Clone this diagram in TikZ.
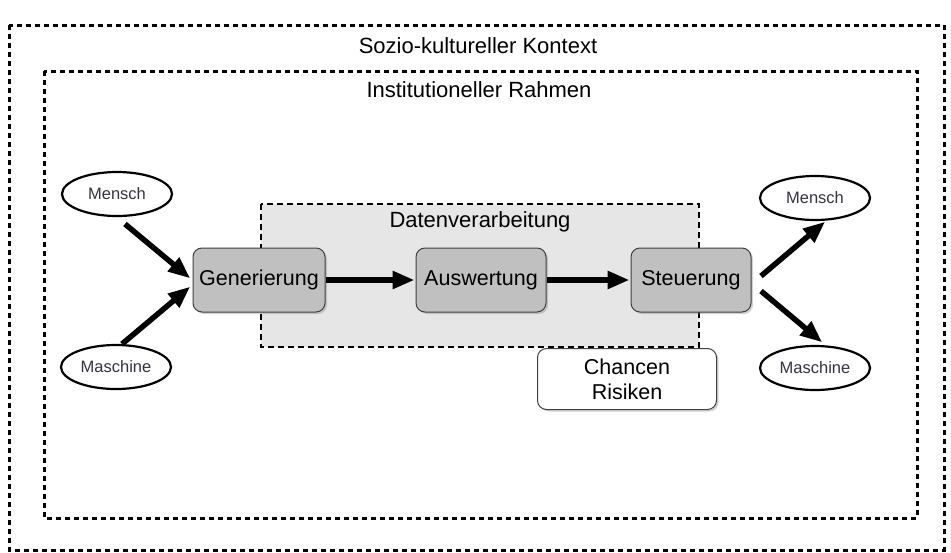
\documentclass[tikz,border=0pt]{standalone}
\usepackage{fontspec}
\setmainfont{Liberation Sans}
\usetikzlibrary{shapes.geometric,arrows.meta,shadows}
\definecolor{boxgray}{HTML}{C0C0C0}
\definecolor{dvgray}{HTML}{E6E6E6}
\definecolor{elltext}{HTML}{333344}
\begin{document}
\begin{tikzpicture}[x=1pt,y=-1pt,
  frame/.style={draw, line width=3pt, dash pattern=on 5pt off 4pt},
  dvframe/.style={draw, line width=2.5pt, dash pattern=on 6pt off 4pt, fill=dvgray},
  stepbox/.style={draw=black!75, line width=1pt, fill=boxgray, rounded corners=9pt,
    minimum width=#1, minimum height=64pt, inner sep=0pt, font=\fontsize{21.5}{25}\selectfont,
    drop shadow={shadow xshift=2pt, shadow yshift=-2pt, opacity=0.35}},
  ell/.style={draw, ellipse, line width=2.2pt, minimum width=110pt, minimum height=44pt,
    inner sep=0pt, text=elltext, font=\fontsize{16.5}{19}\selectfont},
  bigarrow/.style={line width=5.5pt, -{Triangle[length=22pt,width=17pt]}, shorten >=1pt},
  lbl/.style={font=\fontsize{22}{26}\selectfont, inner sep=0pt}]
\useasboundingbox (0,0) rectangle (951,552);
\fill[white] (0,0) rectangle (951,552);
% frames
\draw[frame] (9,25) rectangle (944,550);
\node[lbl] (soz) at (478,46) {Sozio-kultureller Kontext};
\draw[frame] (44,71) rectangle (917,518);
\node[lbl] (inst) at (479,90) {Institutioneller Rahmen};
% Datenverarbeitung
\draw[dvframe] (261,204) rectangle (699,347);
\node[lbl] (dv) at (480,222) {Datenverarbeitung};
% process boxes
\node[stepbox=132pt] (gen) at (259,280) {Generierung};
\node[stepbox=130pt] (aus) at (481,280) {Auswertung};
\node[stepbox=120pt] (ste) at (691,280) {Steuerung};
% chancen
\node[draw=black!75, line width=1pt, fill=white, rounded corners=9pt,
  minimum width=179pt, minimum height=61pt, inner sep=0pt, align=center,
  font=\fontsize{21.5}{25}\selectfont,
  drop shadow={shadow xshift=2pt, shadow yshift=-2pt, opacity=0.35}] (ch) at (627,379) {Chancen\\Risiken};
% ellipses
\node[ell] (m1) at (117,194) {Mensch};
\node[ell] (k1) at (116,367) {Maschine};
\node[ell] (m2) at (815,198) {Mensch};
\node[ell] (k2) at (815,368) {Maschine};
% arrows
\coordinate (a1s) at (125,224);
\coordinate (a2s) at (122,344);
\coordinate (g1) at (191,279);
\coordinate (g2) at (191,286);
\draw[bigarrow] (a1s) -- (g1);
\draw[bigarrow] (a2s) -- (g2);
\draw[bigarrow] (gen.east) -- (aus.west);
\draw[bigarrow] (aus.east) -- (ste.west);
\coordinate (s1) at (761,276);
\coordinate (s2) at (761,291);
\coordinate (e1) at (826,221);
\coordinate (e2) at (823,343);
\draw[bigarrow] (s1) -- (e1);
\draw[bigarrow] (s2) -- (e2);
\end{tikzpicture}
\end{document}
